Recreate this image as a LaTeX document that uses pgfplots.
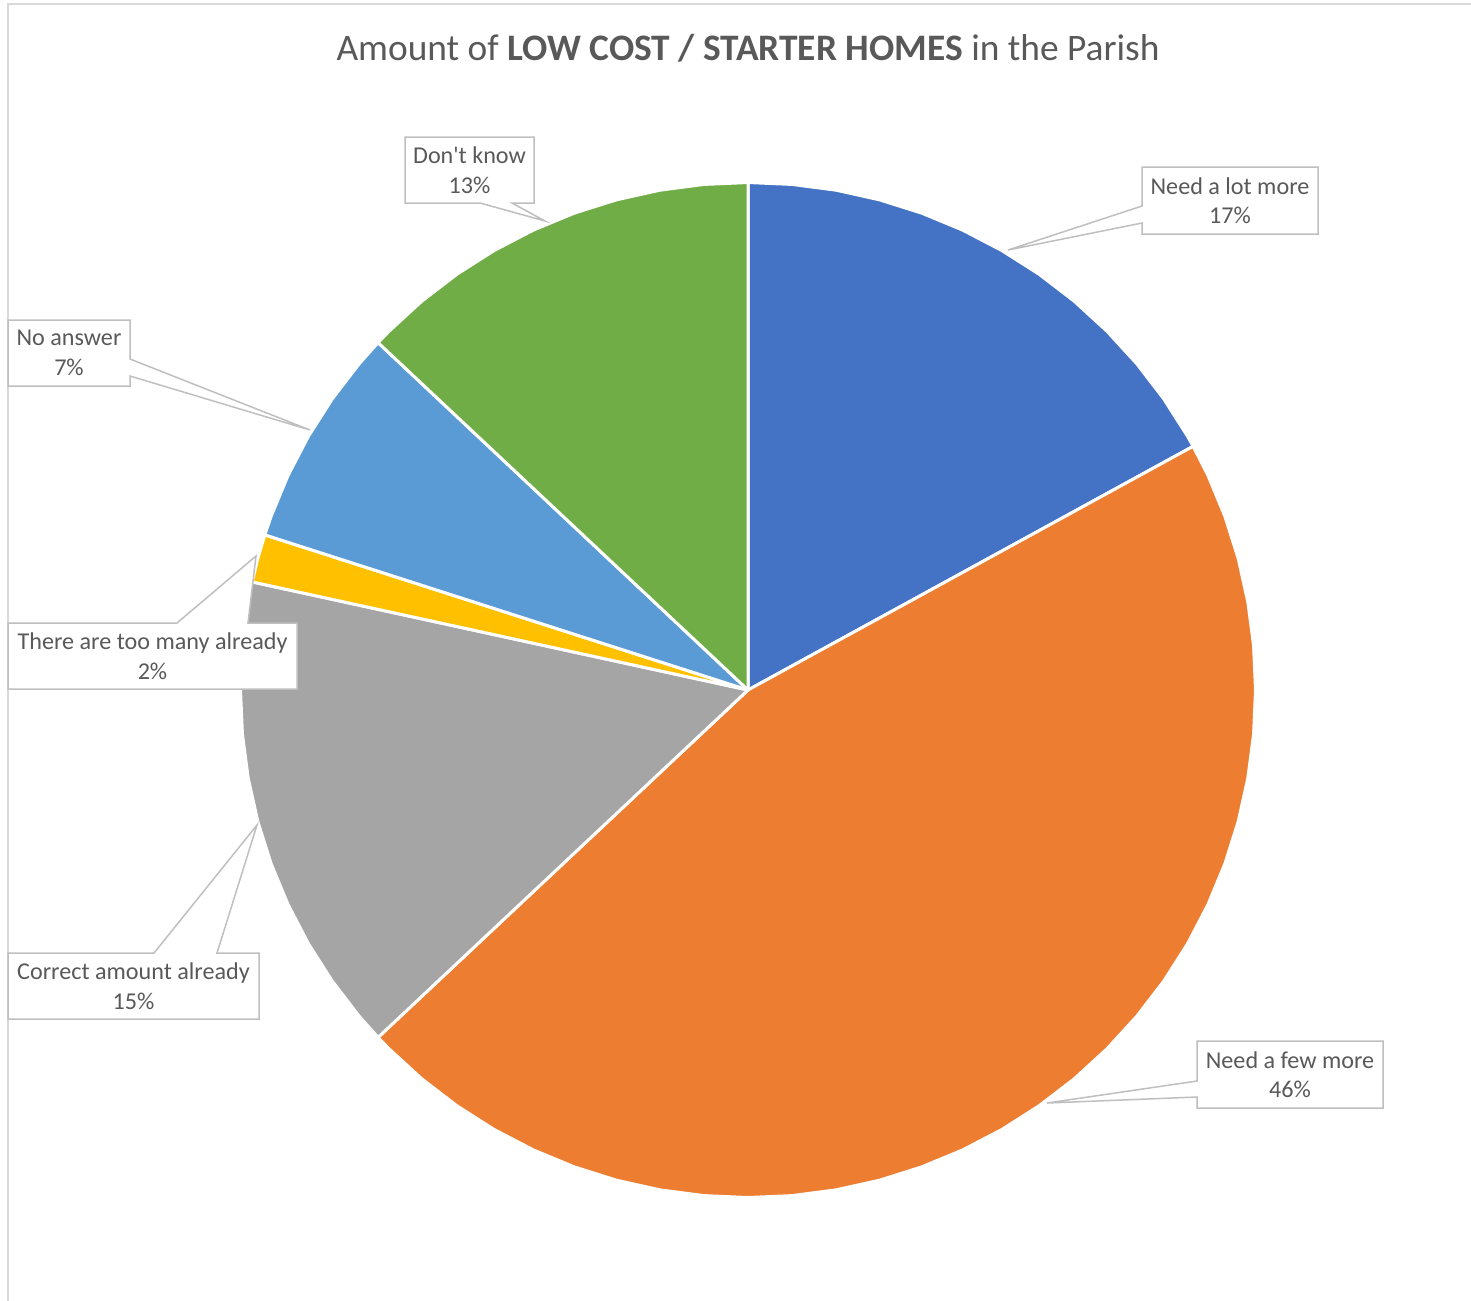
\documentclass[border=0pt]{standalone}
\usepackage{pgfplots}
\pgfplotsset{compat=1.18}
\usepackage{fontspec}
\setmainfont{Carlito}
\newfontfamily\plainapos[Ligatures=TeXOff]{Carlito}
\definecolor{cBlue}{HTML}{4472C4}
\definecolor{cOrange}{HTML}{ED7D31}
\definecolor{cGray}{HTML}{A5A5A5}
\definecolor{cGold}{HTML}{FFC000}
\definecolor{cLBlue}{HTML}{5B9BD5}
\definecolor{cGreen}{HTML}{70AD47}
\definecolor{txt}{HTML}{595959}
\definecolor{frame}{HTML}{D9D9D9}
\definecolor{callout}{HTML}{BFBFBF}
\begin{document}
\begin{tikzpicture}
% Shares (%): Need a lot more 17.05, Need a few more 45.97, Correct amount 15.42,
% Too many 1.53, No answer 7.06, Don't know 12.97 -- slices clockwise from 90 deg
\begin{axis}[at={(0,0)}, anchor=north west, scale only axis,
  width=14.71cm, height=13.01cm,
  xmin=-1.4739, xmax=1.4246, ymin=-1.2039, ymax=1.3596,
  hide axis, clip=false]
\pgfplotsset{every axis plot/.append style={data cs=polar, draw=white, line width=0.3mm, line join=round}}
% Need a lot more: 90 -> 28.7
\addplot[fill=cBlue] coordinates {(0,0) (90,1) (85,1) (80,1) (75,1) (70,1) (65,1) (60,1) (55,1) (50,1) (45,1) (40,1) (35,1) (30,1) (28.7,1) (0,0)};
% Need a few more: 28.7 -> -136.8
\addplot[fill=cOrange] coordinates {(0,0) (28.7,1) (25,1) (20,1) (15,1) (10,1) (5,1) (0,1) (-5,1) (-10,1) (-15,1) (-20,1) (-25,1) (-30,1) (-35,1) (-40,1) (-45,1) (-50,1) (-55,1) (-60,1) (-65,1) (-70,1) (-75,1) (-80,1) (-85,1) (-90,1) (-95,1) (-100,1) (-105,1) (-110,1) (-115,1) (-120,1) (-125,1) (-130,1) (-135,1) (-136.8,1) (0,0)};
% Correct amount already: -136.8 -> -192.3
\addplot[fill=cGray] coordinates {(0,0) (-136.8,1) (-140,1) (-145,1) (-150,1) (-155,1) (-160,1) (-165,1) (-170,1) (-175,1) (-180,1) (-185,1) (-190,1) (-192.3,1) (0,0)};
% There are too many already: -192.3 -> -197.8
\addplot[fill=cGold] coordinates {(0,0) (-192.3,1) (-195,1) (-197.8,1) (0,0)};
% No answer: -197.8 -> -223.2
\addplot[fill=cLBlue] coordinates {(0,0) (-197.8,1) (-200,1) (-205,1) (-210,1) (-215,1) (-220,1) (-223.2,1) (0,0)};
% Don't know: -223.2 -> -270
\addplot[fill=cGreen] coordinates {(0,0) (-223.2,1) (-225,1) (-230,1) (-235,1) (-240,1) (-245,1) (-250,1) (-255,1) (-260,1) (-265,1) (-270,1) (0,0)};
\end{axis}
\begin{scope}[x=0.1mm, y=-0.1mm]
\draw[frame, line width=0.2mm] (8,1301) -- (8,4) -- (1471,4);
\node[txt, anchor=base, inner sep=0pt, font=\fontsize{10.64}{12.5}\selectfont] at (748,60) {Amount of \textbf{LOW COST / STARTER HOMES} in the Parish};
\begin{scope}[draw=callout, fill=white, line width=0.15mm]
\filldraw (1142,167) -- (1318,167) -- (1318,234) -- (1142,234) -- (1142,223) -- (1008,250) -- (1142,206) -- cycle;
\filldraw (1197,1041) -- (1383,1041) -- (1383,1108) -- (1197,1108) -- (1197,1097) -- (1047,1103) -- (1197,1081) -- cycle;
\filldraw (8,953) -- (154,953) -- (257,825) -- (217,953) -- (259,953) -- (259,1019) -- (8,1019) -- cycle;
\filldraw (8,623) -- (177,623) -- (256,556) -- (248,623) -- (297,623) -- (297,689) -- (8,689) -- cycle;
\filldraw (8,320) -- (130,320) -- (130,359) -- (310,430) -- (130,376) -- (130,386) -- (8,386) -- cycle;
\filldraw (405,137) -- (534,137) -- (534,203) -- (512,203) -- (545,221) -- (480,203) -- (405,203) -- cycle;
\end{scope}
\begin{scope}[every node/.style={txt, align=center, inner sep=0pt, font=\fontsize{6.87}{8.4}\selectfont}]
\node at (1230,200.5) {Need a lot more\\17\%};
\node at (1290,1074.5) {Need a few more\\46\%};
\node at (133.5,986) {Correct amount already\\15\%};
\node at (152.5,656) {There are too many already\\2\%};
\node at (69,353) {No answer\\7\%};
\node at (469.5,170) {Don{\plainapos '}t know\\13\%};
\end{scope}
\end{scope}
\pgfresetboundingbox
\path[use as bounding box] (0,0) rectangle (14.71cm,-13.01cm);
\end{tikzpicture}
\end{document}
